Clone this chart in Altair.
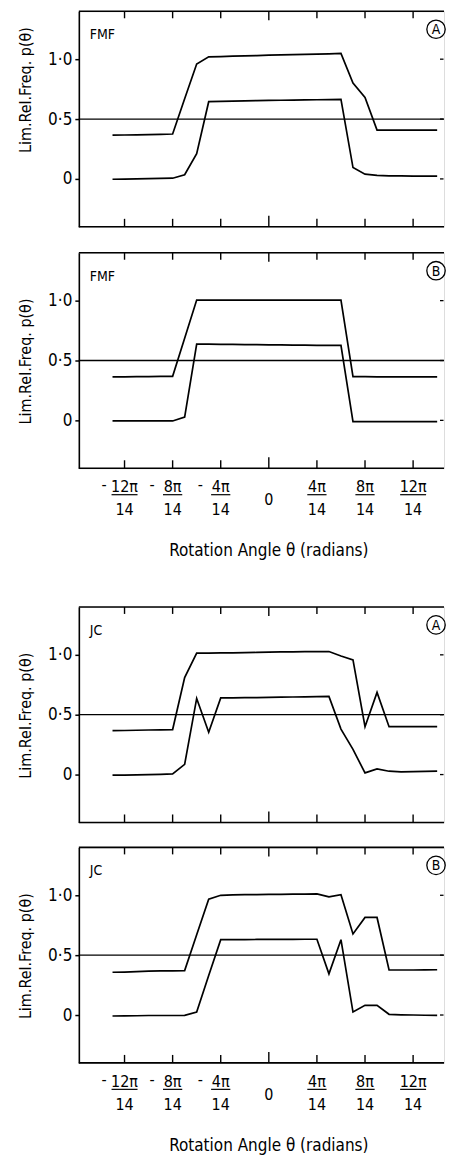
import altair as alt
import pandas as pd

FONT = "DejaVu Sans Condensed, DejaVu Sans, sans-serif"

# rotation angle in units of pi/14
theta_units = list(range(-13, 15))

fmf_a_upper = [0.366, 0.367, 0.368, 0.370, 0.372, 0.375, 0.670, 0.960, 1.020, 1.022,
               1.025, 1.028, 1.030, 1.034, 1.036, 1.038, 1.040, 1.042, 1.045, 1.048,
               0.800, 0.680, 0.408, 0.408, 0.408, 0.408, 0.408, 0.408]
fmf_a_lower = [-0.003, -0.002, 0.000, 0.002, 0.004, 0.006, 0.035, 0.210, 0.645, 0.648,
               0.650, 0.652, 0.654, 0.656, 0.657, 0.658, 0.660, 0.661, 0.663, 0.665,
               0.095, 0.040, 0.030, 0.026, 0.025, 0.024, 0.024, 0.024]
fmf_b_upper = [0.363, 0.364, 0.365, 0.366, 0.367, 0.368, 0.685, 1.005, 1.005, 1.005,
               1.004, 1.004, 1.004, 1.004, 1.005, 1.005, 1.005, 1.005, 1.005, 1.005,
               0.365, 0.365, 0.364, 0.364, 0.364, 0.363, 0.363, 0.363]
fmf_b_lower = [-0.005, -0.005, -0.005, -0.005, -0.005, -0.005, 0.028, 0.637, 0.636, 0.635,
               0.634, 0.633, 0.632, 0.631, 0.630, 0.629, 0.628, 0.627, 0.627, 0.626,
               -0.010, -0.010, -0.010, -0.010, -0.010, -0.010, -0.010, -0.010]
jc_a_upper = [0.367, 0.368, 0.370, 0.372, 0.374, 0.376, 0.810, 1.014, 1.015, 1.016,
              1.017, 1.018, 1.020, 1.022, 1.024, 1.025, 1.026, 1.027, 1.028, 0.990,
              0.958, 0.400, 0.686, 0.400, 0.400, 0.400, 0.400, 0.400]
jc_a_lower = [-0.005, -0.004, -0.002, 0.000, 0.002, 0.005, 0.085, 0.636, 0.353, 0.640,
              0.641, 0.642, 0.643, 0.645, 0.646, 0.648, 0.649, 0.651, 0.653, 0.380,
              0.210, 0.014, 0.047, 0.028, 0.022, 0.024, 0.026, 0.028]
jc_b_upper = [0.357, 0.359, 0.362, 0.366, 0.368, 0.369, 0.371, 0.670, 0.967, 1.000,
              1.003, 1.005, 1.006, 1.007, 1.008, 1.009, 1.010, 1.012, 0.987, 1.005,
              0.677, 0.815, 0.815, 0.377, 0.376, 0.376, 0.377, 0.378]
jc_b_lower = [-0.008, -0.007, -0.006, -0.004, -0.004, -0.004, -0.003, 0.025, 0.330, 0.629,
              0.630, 0.630, 0.631, 0.631, 0.632, 0.632, 0.633, 0.633, 0.344, 0.629,
              0.025, 0.081, 0.081, 0.006, 0.002, 0.000, -0.002, -0.003]

x_minor_ticks = [-12, -8, -4, 4, 8, 12]
y_ticks = [0.0, 0.5, 1.0]
reference_level = [0.5]
denominator = "14"
x_title = "Rotation Angle θ (radians)"
y_title = "Lim.Rel.Freq. p(θ)"

W, H = 366, 216
XDOM = [-15.8, 14.57]
YDOM = [-0.4, 1.4]

xscale = alt.Scale(domain=XDOM, nice=False, zero=False)
yscale = alt.Scale(domain=YDOM, nice=False, zero=False)

yaxis = alt.Axis(
    values=y_ticks,
    labelExpr="datum.value == 0 ? '0' : replace(format(datum.value, '.1f'), '.', '·')",
    title=None, labelFont=FONT, labelFontSize=17, labelColor="black",
    tickSize=4, tickWidth=1.5, tickColor="black", domainWidth=1.6, domainColor="black",
    labelPadding=3, grid=False,
)


def X(field):
    return alt.X(field, type="quantitative", scale=xscale, axis=None)


def Y(field):
    return alt.Y(field, type="quantitative", scale=yscale, axis=yaxis)


def panel(upper, lower, name, letter, show_x_labels, title_center):
    df = pd.DataFrame({
        "theta": theta_units * 2,
        "p": upper + lower,
        "series": ["upper"] * len(upper) + ["lower"] * len(lower),
    })
    lines = alt.Chart(df).mark_line(color="black", strokeWidth=1.7).encode(
        x=X("theta"), y=Y("p"), detail="series:N")

    ref = alt.Chart(pd.DataFrame({"p": reference_level})).mark_rule(
        color="black", strokeWidth=1.3).encode(y=Y("p"), x=alt.value(0), x2=alt.value(W))

    frame_df = pd.DataFrame({"k": [0]})
    top = alt.Chart(frame_df).mark_rule(color="black", strokeWidth=1.6).encode(
        x=alt.value(0), x2=alt.value(W), y=alt.value(0))
    bottom = alt.Chart(frame_df).mark_rule(color="black", strokeWidth=1.6).encode(
        x=alt.value(0), x2=alt.value(W), y=alt.value(H))

    minor = pd.DataFrame({"theta": x_minor_ticks})
    zero = pd.DataFrame({"theta": [0]})
    bt_minor = alt.Chart(minor).mark_rule(color="black", strokeWidth=1.4).encode(
        x=X("theta"), y=alt.value(H), y2=alt.value(H - 8))
    bt_zero = alt.Chart(zero).mark_rule(color="black", strokeWidth=1.4).encode(
        x=X("theta"), y=alt.value(H), y2=alt.value(H - 11))
    tt_minor = alt.Chart(minor).mark_rule(color="black", strokeWidth=1.4).encode(
        x=X("theta"), y=alt.value(0), y2=alt.value(7))
    tt_zero = alt.Chart(zero).mark_rule(color="black", strokeWidth=1.4).encode(
        x=X("theta"), y=alt.value(0), y2=alt.value(9))
    rt = alt.Chart(pd.DataFrame({"p": y_ticks})).mark_rule(color="black", strokeWidth=1.3).encode(
        y=Y("p"), x=alt.value(W - 0.5), x2=alt.value(W - 4))

    ytitle = alt.Chart(frame_df).mark_text(
        text=y_title, font=FONT, fontSize=16, angle=270, align="center",
        baseline="middle", color="black"
    ).encode(x=alt.value(-53), y=alt.value(title_center))
    name_txt = alt.Chart(frame_df).mark_text(
        text=name, font=FONT, fontSize=14, align="left", baseline="alphabetic", color="black"
    ).encode(x=alt.value(11), y=alt.value(28))
    circ = alt.Chart(frame_df).mark_point(
        shape="circle", filled=False, size=340, strokeWidth=1.3, color="black", opacity=1
    ).encode(x=alt.value(358), y=alt.value(18))
    letter_txt = alt.Chart(frame_df).mark_text(
        text=letter, font=FONT, fontSize=14, align="center", baseline="middle", color="black"
    ).encode(x=alt.value(358), y=alt.value(19))

    layers = [ref, lines, top, bottom, bt_minor, bt_zero, tt_minor, tt_zero, rt,
              ytitle, name_txt, circ, letter_txt]

    if show_x_labels:
        lab = pd.DataFrame({"theta": x_minor_ticks})
        lab_base = alt.Chart(lab).transform_calculate(
            num="abs(datum.theta) + 'π'",
            half="abs(datum.theta) >= 10 ? 1.08 : 0.8",
            lo="datum.theta - datum.half",
            hi="datum.theta + datum.half",
            mx="datum.theta - 1.7",
        )
        num = lab_base.mark_text(font=FONT, fontSize=16, align="center",
                                 baseline="alphabetic", color="black").encode(
            x=X("theta"), y=alt.value(H + 24), text="num:N")
        bar = lab_base.mark_rule(color="black", strokeWidth=1.2).encode(
            x=X("lo:Q"), x2="hi:Q", y=alt.value(H + 26.5))
        den = lab_base.mark_text(text=denominator, font=FONT, fontSize=16, align="center",
                                 baseline="alphabetic", color="black").encode(
            x=X("theta"), y=alt.value(H + 47))
        minus = lab_base.transform_filter("datum.theta < 0").mark_text(
            text="-", font=FONT, fontSize=16, align="center", baseline="middle",
            color="black").encode(x=X("mx:Q"), y=alt.value(H + 17))
        zlab = alt.Chart(zero).mark_text(text="0", font=FONT, fontSize=16, align="center",
                                         baseline="alphabetic", color="black").encode(
            x=X("theta"), y=alt.value(H + 37))
        xt = alt.Chart(zero).mark_text(text=x_title, font=FONT, fontSize=17, align="center",
                                       baseline="alphabetic", color="black").encode(
            x=X("theta"), y=alt.value(H + 88))
        layers += [num, bar, den, minus, zlab, xt]

    return alt.layer(*layers).properties(width=W, height=H)


p1 = panel(fmf_a_upper, fmf_a_lower, "FMF", "A", False, 79)
p2 = panel(fmf_b_upper, fmf_b_lower, "FMF", "B", True, 109)
p3 = panel(jc_a_upper, jc_a_lower, "JC", "A", False, 109)
p4 = panel(jc_b_upper, jc_b_lower, "JC", "B", True, 109)

chart = alt.vconcat(
    alt.vconcat(p1, p2, spacing=26, bounds="flush"),
    alt.vconcat(p3, p4, spacing=25, bounds="flush"),
    spacing=45,
).properties(
    padding={"left": 9, "top": 0, "right": 0, "bottom": 0}
).configure_view(stroke="transparent").configure(background="white")

chart.save("out.html", embed_options={"renderer": "svg", "actions": False})
